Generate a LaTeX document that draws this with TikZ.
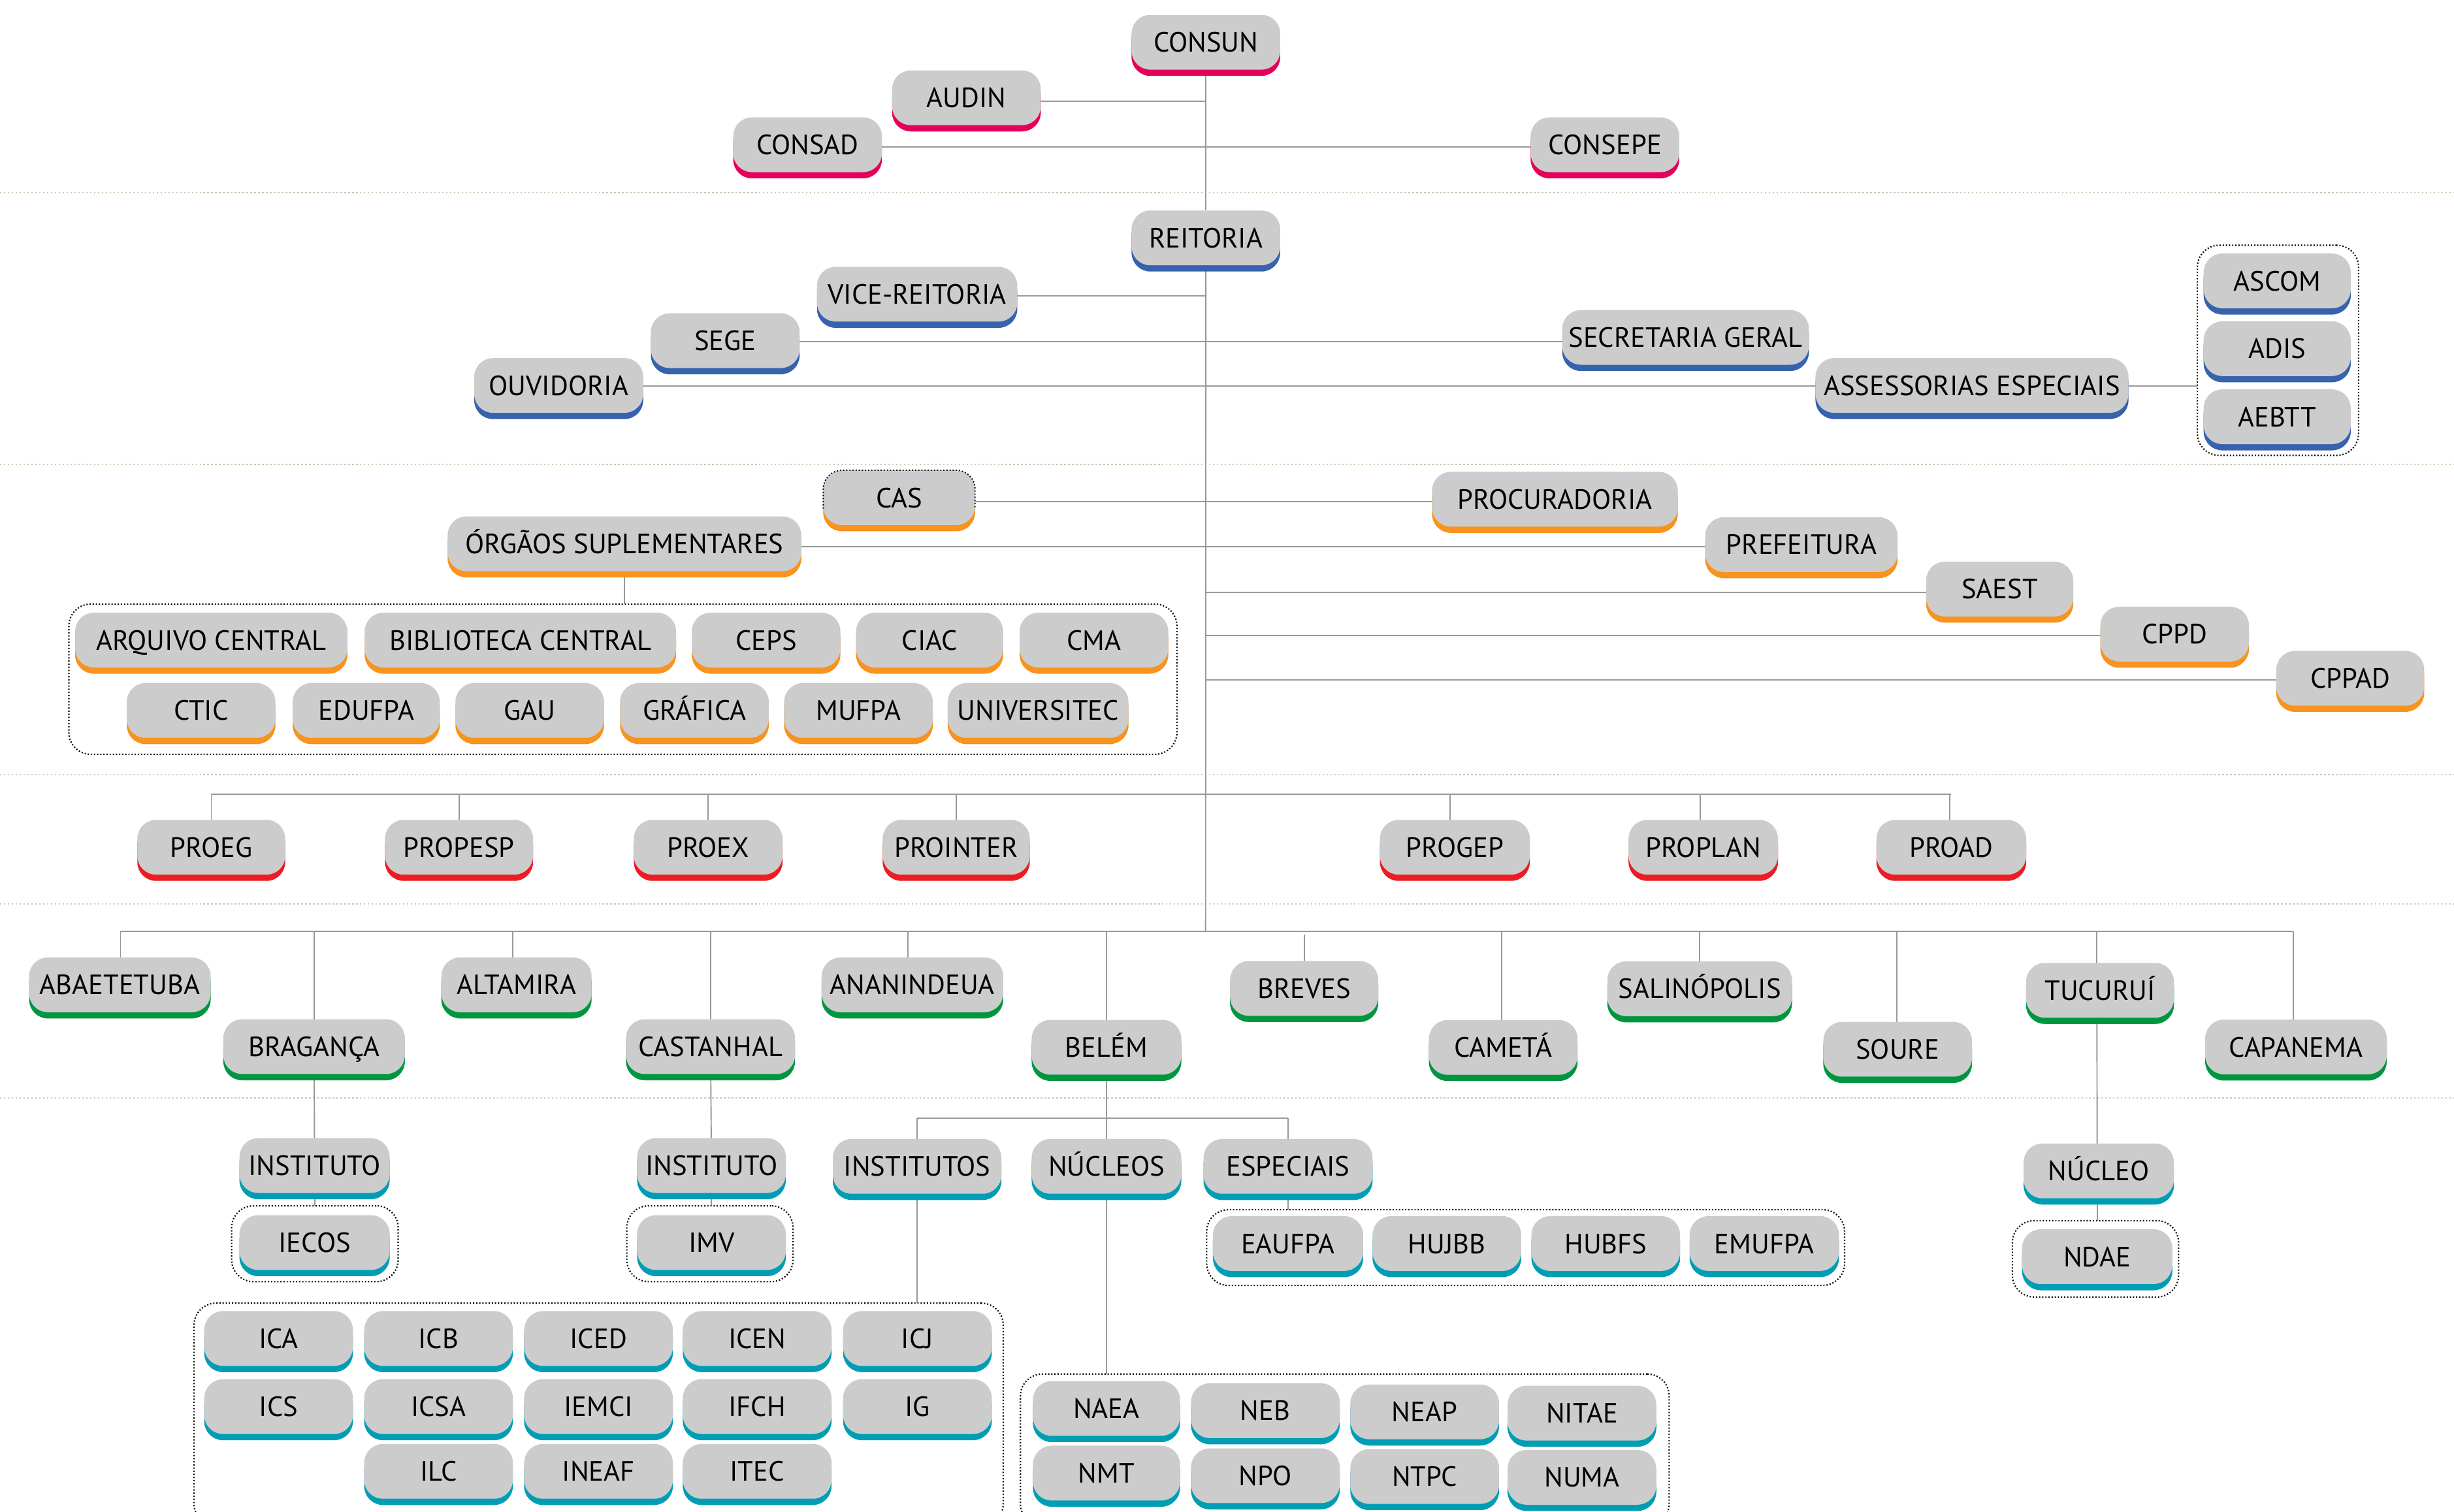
\documentclass[tikz,border=0pt]{standalone}
\usepackage{fontspec}
\setmainfont{PT Sans}
\usetikzlibrary{shadows}
\definecolor{cpink}{HTML}{E4005B}
\definecolor{cblue}{HTML}{3762AE}
\definecolor{corange}{HTML}{F7931E}
\definecolor{cred}{HTML}{ED1C24}
\definecolor{cgreen}{HTML}{009640}
\definecolor{cteal}{HTML}{009DB4}
\definecolor{boxgray}{HTML}{CCCCCC}
\definecolor{linegray}{HTML}{999999}
\definecolor{sepcol}{HTML}{D2C5B5}
\newcommand\orgfont{\fontsize{17.8}{20}\selectfont}
\pgfdeclarelayer{background}
\pgfsetlayers{background,main}
\begin{document}
\begin{tikzpicture}[x=1pt,y=-1pt,
  orgbox/.style={rounded corners=12pt, fill=boxgray, minimum height=35pt, inner sep=0pt, outer sep=0pt, font=\orgfont, text=black, text height=12.6pt, text depth=0pt},
  pkbox/.style={orgbox, general shadow={fill=cpink, shadow yshift=-4pt}},
  blbox/.style={orgbox, general shadow={fill=cblue, shadow yshift=-4pt}},
  orbox/.style={orgbox, general shadow={fill=corange, shadow yshift=-4pt}},
  rdbox/.style={orgbox, general shadow={fill=cred, shadow yshift=-4pt}},
  grbox/.style={orgbox, general shadow={fill=cgreen, shadow yshift=-4pt}},
  tlbox/.style={orgbox, general shadow={fill=cteal, shadow yshift=-4pt}},
  grp/.style={draw=black, line width=0.9pt, dash pattern=on 0.8pt off 1.2pt, rounded corners=14pt, inner sep=0pt, outer sep=0pt},
  conn/.style={draw=linegray, line width=0.8pt},
  mainconn/.style={draw=linegray, line width=1.1pt},
  sepline/.style={draw=sepcol, line width=1pt, dash pattern=on 1pt off 1.5pt}
]
\clip (0,0) rectangle (1568,965.8);

% ---------- CONSUN level ----------
\node[pkbox,minimum width=95pt] (consun) at (770.5,27) {CONSUN};
\node[pkbox,minimum width=95pt] (audin) at (617.5,62.5) {AUDIN};
\node[pkbox,minimum width=95pt] (consad) at (516,92.5) {CONSAD};
\node[pkbox,minimum width=95pt] (consepe) at (1025.5,92.5) {CONSEPE};

% ---------- REITORIA level ----------
\node[blbox,minimum width=95pt] (reitoria) at (770.5,152) {REITORIA};
\node[blbox,minimum width=128pt] (vice) at (586,188) {VICE-REITORIA};
\node[blbox,minimum width=95pt] (sege) at (463.4,217.7) {SEGE};
\node[blbox,minimum width=108pt] (ouvidoria) at (357,246.3) {OUVIDORIA};
\node[blbox,minimum width=157.6pt] (secgeral) at (1077,215.6) {SECRETARIA GERAL};
\node[blbox,minimum width=200pt] (assess) at (1260,246.3) {ASSESSORIAS ESPECIAIS};
\node[blbox,minimum width=94pt] (ascom) at (1455,179.5) {ASCOM};
\node[blbox,minimum width=94pt] (adis) at (1455,222.8) {ADIS};
\node[blbox,minimum width=94pt] (aebtt) at (1455,266.3) {AEBTT};
\node[grp,minimum width=103pt,minimum height=134.3pt] (gascom) at (1455.5,223.85) {};

% ---------- third level ----------
\node[orbox,minimum width=97pt] (cas) at (574.5,318) {CAS};
\draw[black, line width=0.8pt, dash pattern=on 0.8pt off 1.2pt, rounded corners=12pt]
  ([yshift=-7pt]cas.west) -- (cas.north west) -- (cas.north east) -- ([yshift=-7pt]cas.east);
\node[orbox,minimum width=226pt] (orgaos) at (399,347.5) {ÓRGÃOS SUPLEMENTARES};
\node[orbox,minimum width=157pt] (procuradoria) at (993.5,319) {PROCURADORIA};
\node[orbox,minimum width=123pt] (prefeitura) at (1151,348) {PREFEITURA};
\node[orbox,minimum width=94pt] (saest) at (1277.7,376.4) {SAEST};
\node[orbox,minimum width=95pt] (cppd) at (1389.5,405.2) {CPPD};
\node[orbox,minimum width=94.5pt] (cppad) at (1501.7,433.4) {CPPAD};

\node[orbox,minimum width=174pt] (arquivo) at (135,409) {ARQUIVO CENTRAL};
\node[orbox,minimum width=199pt] (biblioteca) at (332.5,409) {BIBLIOTECA CENTRAL};
\node[orbox,minimum width=95pt] (ceps) at (489.5,409) {CEPS};
\node[orbox,minimum width=94pt] (ciac) at (594,409) {CIAC};
\node[orbox,minimum width=95pt] (cma) at (699,409) {CMA};
\node[orbox,minimum width=95pt] (ctic) at (128.5,454) {CTIC};
\node[orbox,minimum width=94pt] (edufpa) at (234,454) {EDUFPA};
\node[orbox,minimum width=95pt] (gau) at (338.5,454) {GAU};
\node[orbox,minimum width=95pt] (grafica) at (443.7,454) {GRÁFICA};
\node[orbox,minimum width=95pt] (mufpa) at (548.5,454) {MUFPA};
\node[orbox,minimum width=115.5pt] (universitec) at (663.3,454) {UNIVERSITEC};
\node[grp,minimum width=708pt,minimum height=96pt] (gorg) at (398,434) {};

% ---------- PRO level ----------
\node[rdbox,minimum width=94.5pt] (proeg) at (135,541.4) {PROEG};
\node[rdbox,minimum width=94.6pt] (propesp) at (293.3,541.4) {PROPESP};
\node[rdbox,minimum width=95pt] (proex) at (452.5,541.4) {PROEX};
\node[rdbox,minimum width=94pt] (prointer) at (611,541.4) {PROINTER};
\node[rdbox,minimum width=95.8pt] (progep) at (929.6,541.4) {PROGEP};
\node[rdbox,minimum width=95.5pt] (proplan) at (1088.3,541.4) {PROPLAN};
\node[rdbox,minimum width=95.7pt] (proad) at (1246.8,541.4) {PROAD};

% ---------- campus level ----------
\node[grbox,minimum width=116pt] (abaetetuba) at (76.6,629.3) {ABAETETUBA};
\node[grbox,minimum width=116pt] (braganca) at (200.7,668.8) {BRAGANÇA};
\node[grbox,minimum width=96pt] (altamira) at (330,629.3) {ALTAMIRA};
\node[grbox,minimum width=108pt] (castanhal) at (454,668.8) {CASTANHAL};
\node[grbox,minimum width=116pt] (ananindeua) at (583,629.3) {ANANINDEUA};
\node[grbox,minimum width=95.6pt] (belem) at (707,669.2) {BELÉM};
\node[grbox,minimum width=94.7pt] (breves) at (833.3,631.6) {BREVES};
\node[grbox,minimum width=95pt] (cameta) at (960.5,669.3) {CAMETÁ};
\node[grbox,minimum width=118pt] (salinopolis) at (1086,631.8) {SALINÓPOLIS};
\node[grbox,minimum width=95pt] (soure) at (1212.5,670.5) {SOURE};
\node[grbox,minimum width=94.5pt] (tucurui) at (1341.8,632.8) {TUCURUÍ};
\node[grbox,minimum width=116pt] (capanema) at (1467,669) {CAPANEMA};

% ---------- units level ----------
\node[tlbox,minimum width=96pt] (inst1) at (201,744.8) {INSTITUTO};
\node[tlbox,minimum width=96pt] (iecos) at (201,794) {IECOS};
\node[grp,minimum width=106.4pt,minimum height=48.5pt] (giecos) at (201.2,794.75) {};
\node[tlbox,minimum width=95pt] (inst2) at (454.6,744.8) {INSTITUTO};
\node[tlbox,minimum width=95pt] (imv) at (454.6,794) {IMV};
\node[grp,minimum width=106.2pt,minimum height=48.5pt] (gimv) at (453.6,794.75) {};
\node[tlbox,minimum width=107.7pt] (institutos) at (586,745.3) {INSTITUTOS};
\node[tlbox,minimum width=95.6pt] (nucleos) at (707,745.3) {NÚCLEOS};
\node[tlbox,minimum width=108pt] (especiais) at (823,745.3) {ESPECIAIS};

\node[tlbox,minimum width=95pt] (ica) at (178,855.3) {ICA};
\node[tlbox,minimum width=95pt] (icb) at (280.2,855.3) {ICB};
\node[tlbox,minimum width=95pt] (iced) at (382.4,855.3) {ICED};
\node[tlbox,minimum width=95pt] (icen) at (483.8,855.3) {ICEN};
\node[tlbox,minimum width=95pt] (icj) at (586.2,855.3) {ICJ};
\node[tlbox,minimum width=95pt] (ics) at (178,898.8) {ICS};
\node[tlbox,minimum width=95pt] (icsa) at (280.2,898.8) {ICSA};
\node[tlbox,minimum width=95pt] (iemci) at (382.4,898.8) {IEMCI};
\node[tlbox,minimum width=95pt] (ifch) at (483.8,898.8) {IFCH};
\node[tlbox,minimum width=95pt] (ig) at (586.2,898.8) {IG};
\node[tlbox,minimum width=95pt] (ilc) at (280.2,940.2) {ILC};
\node[tlbox,minimum width=95pt] (ineaf) at (382.4,940.2) {INEAF};
\node[tlbox,minimum width=95pt] (itec) at (483.8,940.2) {ITEC};
\node[grp,minimum width=517pt,minimum height=142.3pt] (ginst) at (382.5,903.85) {};

\node[tlbox,minimum width=96pt] (eaufpa) at (823,794.6) {EAUFPA};
\node[tlbox,minimum width=95pt] (hujbb) at (924.5,794.6) {HUJBB};
\node[tlbox,minimum width=95pt] (hubfs) at (1026,794.6) {HUBFS};
\node[tlbox,minimum width=95.4pt] (emufpa) at (1127.3,794.6) {EMUFPA};
\node[grp,minimum width=407.6pt,minimum height=48.4pt] (gesp) at (974.8,797.2) {};

\node[tlbox,minimum width=94pt] (naea) at (707,900) {NAEA};
\node[tlbox,minimum width=95pt] (neb) at (808.5,901.4) {NEB};
\node[tlbox,minimum width=95pt] (neap) at (910.3,902.2) {NEAP};
\node[tlbox,minimum width=95pt] (nitae) at (1010.8,903) {NITAE};
\node[tlbox,minimum width=94pt] (nmt) at (707,941.3) {NMT};
\node[tlbox,minimum width=95pt] (npo) at (808.5,943) {NPO};
\node[tlbox,minimum width=95pt] (ntpc) at (910.3,943.5) {NTPC};
\node[tlbox,minimum width=95pt] (numa) at (1010.8,944) {NUMA};
\node[grp,minimum width=414.5pt,minimum height=97pt] (gnuc) at (859.25,926.5) {};

\node[tlbox,minimum width=96pt] (nucleo) at (1341,748.2) {NÚCLEO};
\node[tlbox,minimum width=96pt] (ndae) at (1340,803) {NDAE};
\node[grp,minimum width=106.2pt,minimum height=48.8pt] (gndae) at (1338.9,804.4) {};

% ---------- connectors and separators ----------
\coordinate (trunkbot) at (770.3,595.2);
\coordinate (prorow) at (770.3,507.5);
\coordinate (camprow) at (770.3,595.2);
\coordinate (belrow) at (707,714.4);
\begin{pgfonlayer}{background}
  \fill[white] (0,0) rectangle (1568,965.8);
  \foreach \yy in {123,296.8,495,577.5,701.6}
    \draw[sepline] (0,\yy) -- (1568,\yy);
  \draw[conn] (consun) -- (reitoria);
  \draw[conn] (reitoria) -- (trunkbot);
  \draw[conn] ([yshift=-2pt]audin.center) -- ([yshift=-2pt]audin.center -| consun.center);
  \draw[conn] ([yshift=-1.5pt]consad.center) -- ([yshift=-1.5pt]consepe.center);
  \draw[conn] ([yshift=-1pt]vice.center) -- ([yshift=-1pt]vice.center -| reitoria.center);
  \draw[conn] ([yshift=-0.5pt]sege.center) -- ([yshift=-0.5pt]sege.center -| secgeral.center);
  \draw[conn] ([yshift=-0.5pt]ouvidoria.center) -- ([yshift=-0.5pt]assess.center);
  \draw[conn] ([yshift=-0.5pt]assess.center) -- ([yshift=-0.5pt]assess.center -| gascom.west);
  \draw[conn] ([yshift=-2.5pt]cas.center) -- ([yshift=-2.5pt]cas.center -| procuradoria.center);
  \draw[conn] ([yshift=-2pt]orgaos.center) -- ([yshift=-2pt]orgaos.center -| prefeitura.center);
  \draw[conn] ([yshift=-2pt]saest.center) -- ([yshift=-2pt]saest.center -| reitoria.center);
  \draw[conn] ([yshift=-1pt]cppd.center) -- ([yshift=-1pt]cppd.center -| reitoria.center);
  \draw[conn] ([yshift=-1pt]cppad.center) -- ([yshift=-1pt]cppad.center -| reitoria.center);
  \draw[conn] (orgaos) -- (orgaos |- gorg.north);
  % PRO row
  \draw[mainconn] (proeg |- prorow) -- (proad |- prorow);
  \draw[conn] (proeg) -- (proeg |- prorow);
  \draw[conn] (propesp) -- (propesp |- prorow);
  \draw[conn] (proex) -- (proex |- prorow);
  \draw[conn] (prointer) -- (prointer |- prorow);
  \draw[conn] ([xshift=-3pt]progep.center) -- ([xshift=-3pt]progep.center |- prorow);
  \draw[conn] ([xshift=-2pt]proplan.center) -- ([xshift=-2pt]proplan.center |- prorow);
  \draw[conn] ([xshift=-1pt]proad.center) -- ([xshift=-1pt]proad.center |- prorow);
  % campus row
  \draw[mainconn] ([xshift=0.4pt]abaetetuba.center |- camprow) -- ([xshift=-1.5pt]capanema.center |- camprow);
  \draw[conn] ([xshift=0.4pt]abaetetuba.center) -- ([xshift=0.4pt]abaetetuba.center |- camprow);
  \draw[conn] (braganca) -- (braganca |- camprow);
  \draw[conn] ([xshift=-2.3pt]altamira.center) -- ([xshift=-2.3pt]altamira.center |- camprow);
  \draw[conn] (castanhal) -- (castanhal |- camprow);
  \draw[conn] ([xshift=-3pt]ananindeua.center) -- ([xshift=-3pt]ananindeua.center |- camprow);
  \draw[conn] (belem) -- (belem |- camprow);
  \draw[conn] (breves) -- ([yshift=-2pt]breves |- camprow);
  \draw[conn] ([xshift=-1pt]cameta.center) -- ([xshift=-1pt]cameta.center |- camprow);
  \draw[conn] (salinopolis) -- (salinopolis |- camprow);
  \draw[conn] ([xshift=-0.7pt]soure.center) -- ([xshift=-0.7pt]soure.center |- camprow);
  \draw[conn] ([xshift=-2pt]tucurui.center) -- ([xshift=-2pt]tucurui.center |- camprow);
  \draw[conn] ([xshift=-1.5pt]capanema.center) -- ([xshift=-1.5pt]capanema.center |- camprow);
  % units
  \draw[conn] (braganca) -- (inst1);
  \draw[conn] (inst1) -- (inst1 |- giecos.north);
  \draw[conn] (castanhal) -- (inst2);
  \draw[conn] (inst2) -- (inst2 |- gimv.north);
  \draw[conn] (belem) -- (nucleos);
  \draw[conn] (nucleos) -- (nucleos |- gnuc.north);
  \draw[conn] (institutos |- belrow) -- (especiais |- belrow);
  \draw[conn] (institutos) -- (institutos |- belrow);
  \draw[conn] (especiais) -- (especiais |- belrow);
  \draw[conn] (institutos) -- (institutos |- ginst.north);
  \draw[conn] (especiais) -- (especiais |- gesp.north);
  \draw[conn] ([xshift=-2pt]tucurui.center) -- ([xshift=-1pt]nucleo.center);
  \draw[conn] ([xshift=-1pt]nucleo.center) -- ([xshift=-1pt]nucleo.center |- gndae.north);
\end{pgfonlayer}
\end{tikzpicture}
\end{document}
